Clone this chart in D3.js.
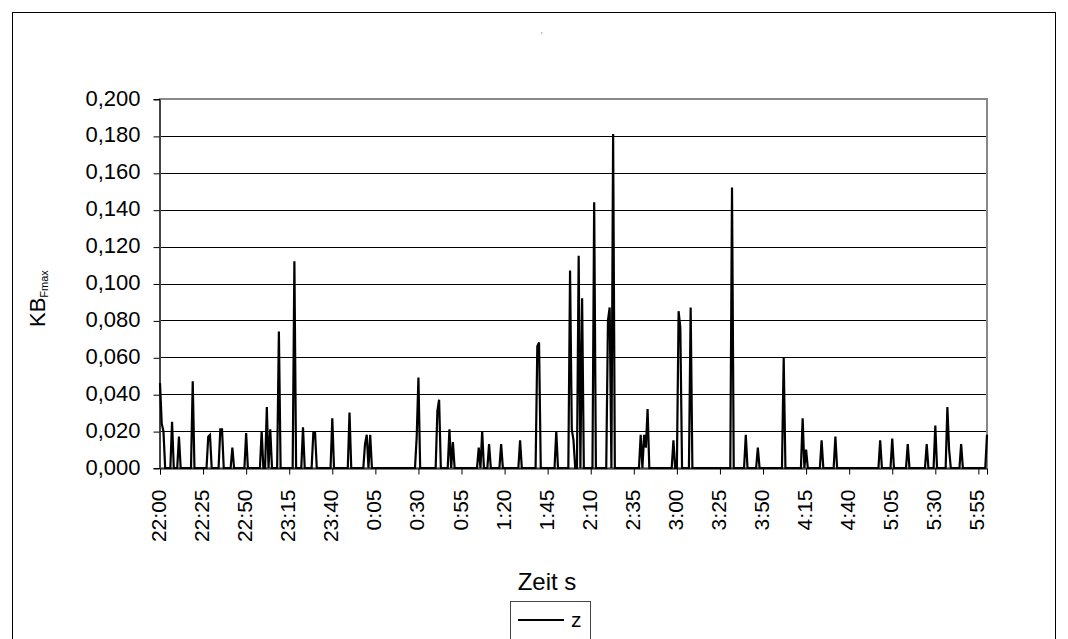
<!DOCTYPE html>
<html>
<head>
<meta charset="utf-8">
<script src="https://cdn.jsdelivr.net/npm/d3@7"></script>
<style>
    body { margin: 0; background: #fff; }
    svg { font-family: "Liberation Sans", Arial, sans-serif; }
</style>
</head>
<body>
<script>
// minutes after 22:00 where the reading is not zero, and the reading there
const spikeMinutes = [0, 1, 2, 7, 11, 19, 28, 29, 35, 36, 42, 50, 59, 62, 64, 69, 78, 83, 89, 90,
    100, 110, 119, 120, 122, 149, 150, 161, 162, 168, 170, 185, 187, 191, 198, 209, 219, 220, 230,
    238, 239, 240, 243, 245, 252, 260, 261, 263, 279, 281, 282, 283, 298, 301, 302, 308, 332, 340,
    347, 362, 373, 375, 384, 392, 418, 425, 434, 445, 450, 457, 458, 465, 480];
const spikeValues = [0.046, 0.024, 0.020, 0.025, 0.017, 0.047, 0.017, 0.018, 0.021, 0.021, 0.011,
    0.019, 0.020, 0.033, 0.021, 0.074, 0.112, 0.022, 0.019, 0.019,
    0.027, 0.030, 0.013, 0.018, 0.018, 0.017, 0.049, 0.031, 0.037, 0.021, 0.014, 0.011, 0.020,
    0.013, 0.013, 0.015, 0.066, 0.068, 0.020,
    0.107, 0.021, 0.015, 0.115, 0.092, 0.144, 0.080, 0.087, 0.181, 0.018, 0.018, 0.011, 0.032,
    0.015, 0.085, 0.076, 0.087, 0.152, 0.018,
    0.011, 0.060, 0.027, 0.010, 0.015, 0.017, 0.015, 0.016, 0.013, 0.013, 0.023, 0.033, 0.010,
    0.013, 0.018];
const minuteCount = 481; // 22:00 .. 6:00, one value per minute
const tickLabels = ["22:00", "22:25", "22:50", "23:15", "23:40", "0:05", "0:30", "0:55", "1:20",
    "1:45", "2:10", "2:35", "3:00", "3:25", "3:50", "4:15", "4:40", "5:05", "5:30", "5:55"];
const yTicks = [0, 0.02, 0.04, 0.06, 0.08, 0.1, 0.12, 0.14, 0.16, 0.18, 0.2];

const series = d3.range(minuteCount).map(() => 0);
spikeMinutes.forEach((m, i) => { series[m] = spikeValues[i]; });

const width = 1068;
const height = 639;
const plot = {left: 160, right: 987, top: 99, bottom: 468};

const svg = d3.select("body")
    .append("svg")
    .attr("width", width)
    .attr("height", height);

// outer chart frame
svg.append("rect")
    .attr("x", 12.5)
    .attr("y", 12.5)
    .attr("width", 1043)
    .attr("height", 700)
    .attr("fill", "none")
    .attr("stroke", "#000");

const x = d3.scaleLinear().domain([0, minuteCount - 1]).range([plot.left, plot.right]);
const y = d3.scaleLinear().domain([0, 0.2]).range([plot.bottom, plot.top]);
const fmt = v => d3.format(".3f")(v).replace(".", ",");

// gridlines
svg.append("g")
    .selectAll("line")
    .data(yTicks.slice(1, -1))
    .enter()
    .append("line")
    .attr("x1", plot.left)
    .attr("x2", plot.right)
    .attr("y1", d => Math.round(y(d)) + 0.5)
    .attr("y2", d => Math.round(y(d)) + 0.5)
    .attr("stroke", "#000");

// plot border (grey)
svg.append("rect")
    .attr("x", plot.left)
    .attr("y", plot.top)
    .attr("width", plot.right - plot.left)
    .attr("height", plot.bottom - plot.top)
    .attr("fill", "none")
    .attr("stroke", "#888")
    .attr("stroke-width", 2);

// y axis
const yAxis = svg.append("g")
    .attr("transform", `translate(${plot.left - 0.5},0)`)
    .call(d3.axisLeft(y).tickValues(yTicks).tickFormat(fmt).tickSize(6).tickPadding(13));
yAxis.select(".domain").attr("stroke", "#000");
yAxis.selectAll(".tick line").attr("transform", "translate(0,0.5)");
yAxis.selectAll("text")
    .attr("font-size", 22)
    .attr("font-family", "Liberation Sans, Arial, sans-serif")
    .attr("fill", "#000")
    .attr("dy", 6);

// x axis
const xAxis = svg.append("g")
    .attr("transform", `translate(0,${plot.bottom + 0.5})`)
    .call(d3.axisBottom(x).tickValues(tickLabels.map((t, i) => i * 25)).tickFormat((d, i) => tickLabels[i]).tickSize(6));
xAxis.select(".domain").attr("stroke", "#000");
xAxis.selectAll("text")
    .attr("font-size", 21)
    .attr("font-family", "Liberation Sans, Arial, sans-serif")
    .attr("fill", "#000")
    .attr("text-anchor", "end")
    .attr("transform", "translate(0,21) rotate(-90)")
    .attr("x", 0)
    .attr("y", 0)
    .attr("dy", 5.5);

// the series
const line = d3.line()
    .x((d, i) => x(i))
    .y(d => y(d));

svg.append("path")
    .datum(series)
    .attr("d", line)
    .attr("fill", "none")
    .attr("stroke", "#000")
    .attr("stroke-width", 2.2);

// titles
svg.append("text")
    .attr("x", 541)
    .attr("y", 34)
    .attr("font-size", 3)
    .attr("fill", "#555")
    .text("z");

svg.append("text")
    .attr("x", 547)
    .attr("y", 590)
    .attr("text-anchor", "middle")
    .attr("font-size", 24)
    .text("Zeit s");

const yTitle = svg.append("text")
    .attr("transform", "translate(45,327) rotate(-90)")
    .attr("font-size", 22);
yTitle.append("tspan").text("KB");
yTitle.append("tspan")
    .attr("font-size", 11)
    .attr("dy", 3)
    .text("Fmax");

// legend
const legend = svg.append("g");
legend.append("rect")
    .attr("x", 510.5)
    .attr("y", 601.5)
    .attr("width", 80)
    .attr("height", 60)
    .attr("fill", "#fff")
    .attr("stroke", "#444");
legend.append("line")
    .attr("x1", 518)
    .attr("x2", 564)
    .attr("y1", 620)
    .attr("y2", 620)
    .attr("stroke", "#000")
    .attr("stroke-width", 2);
legend.append("text")
    .attr("x", 571)
    .attr("y", 627)
    .attr("font-size", 21)
    .text("z");
</script>
</body>
</html>
